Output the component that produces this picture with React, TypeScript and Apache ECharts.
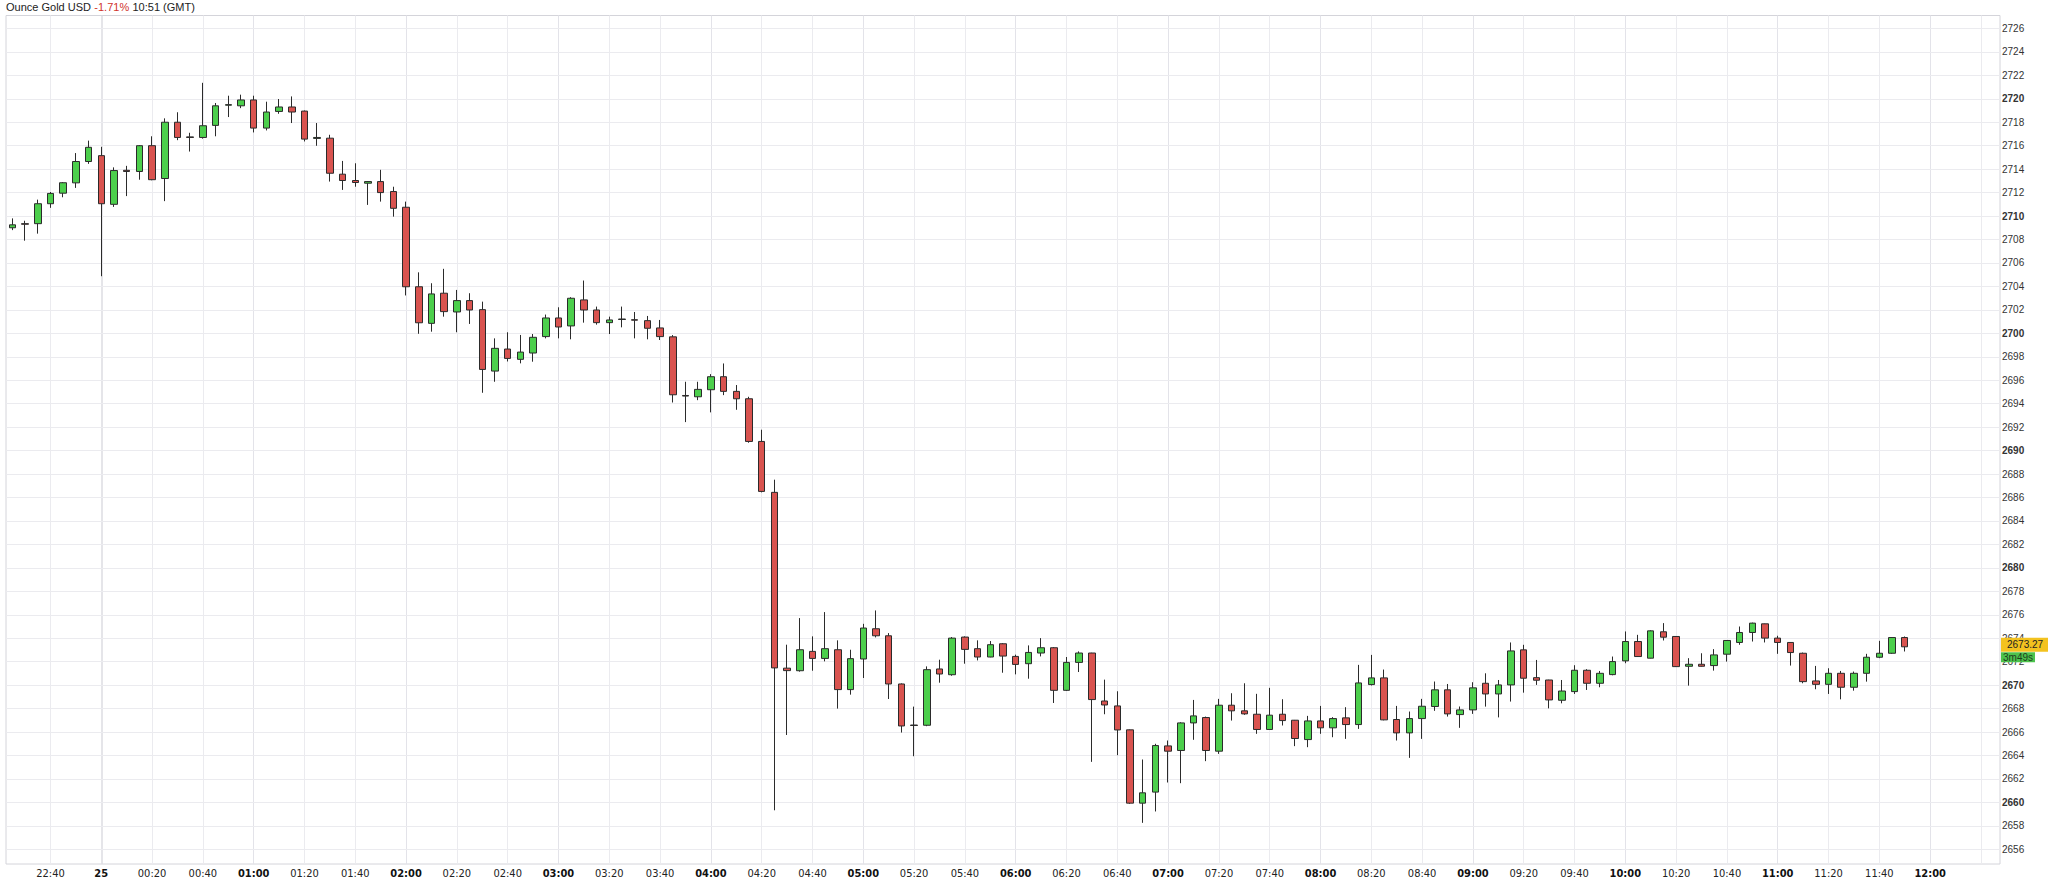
import React, { useEffect, useRef } from 'react';
import * as echarts from 'echarts';

// ---- header ----
const TITLE = 'Ounce Gold USD';
const CHANGE = '-1.71%';
const TIME_TEXT = '10:51 (GMT)';

// ---- sessions (5-minute candles; market break between them) ----
const SESSIONS = [
  { start: '22:25', count: 7 },
  { start: '00:00', count: 150 },
];
const DATE_LABEL = '25';
const LAST_X_LABEL = '12:00';

// ---- OHLC (5 min) ----
const OPEN = [
  2709.0, 2709.35, 2709.35, 2711.05, 2711.95, 2712.83, 2714.65, 2715.15, 2711.0, 2713.9,
  2713.8, 2716.0, 2713.2, 2718.0, 2716.75, 2716.7, 2717.73, 2719.45, 2719.4, 2719.9,
  2717.5, 2718.92, 2719.3, 2718.95, 2716.62, 2716.64, 2713.57, 2713.03, 2712.8, 2712.94,
  2712.09, 2710.75, 2703.97, 2700.85, 2703.42, 2701.82, 2702.79, 2702.02, 2696.78, 2698.66,
  2697.78, 2698.32, 2699.72, 2701.31, 2700.63, 2702.85, 2701.99, 2700.91, 2701.18, 2701.16,
  2701.08, 2700.46, 2699.7, 2694.7, 2694.59, 2695.19, 2696.3, 2695.05, 2694.42, 2690.78,
  2686.44, 2671.45, 2671.23, 2672.88, 2672.28, 2673.02, 2669.62, 2672.23, 2674.81, 2674.21,
  2670.1, 2666.6, 2666.58, 2671.38, 2670.89, 2674.1, 2673.11, 2672.4, 2673.53, 2672.45,
  2671.83, 2672.74, 2673.19, 2669.56, 2671.94, 2672.74, 2668.65, 2668.23, 2666.19, 2659.94,
  2660.88, 2664.82, 2664.43, 2666.78, 2667.24, 2664.37, 2668.29, 2667.81, 2667.52, 2666.22,
  2667.52, 2667.01, 2665.36, 2666.95, 2666.36, 2667.21, 2666.64, 2670.05, 2670.62, 2667.07,
  2665.93, 2667.15, 2668.18, 2669.6, 2667.49, 2667.89, 2670.16, 2669.25, 2670.02, 2673.01,
  2670.64, 2670.44, 2668.71, 2669.45, 2671.27, 2670.16, 2670.9, 2672.07, 2673.72, 2672.3,
  2674.55, 2674.15, 2671.61, 2671.78, 2671.67, 2672.64, 2673.64, 2674.49, 2675.23, 2674.01,
  2673.64, 2672.72, 2670.36, 2670.07, 2671.01, 2669.82, 2671.01, 2672.38, 2672.72, 2674.06,
];
const CLOSE = [
  2709.25, 2709.3, 2711.05, 2711.93, 2712.84, 2714.65, 2715.86, 2711.05, 2713.88, 2713.8,
  2716.0, 2713.1, 2718.0, 2716.7, 2716.7, 2717.7, 2719.4, 2719.5, 2719.9, 2717.5,
  2718.87, 2719.3, 2718.87, 2716.56, 2716.7, 2713.65, 2713.03, 2712.86, 2712.94, 2712.0,
  2710.66, 2703.97, 2700.9, 2703.36, 2701.85, 2702.79, 2701.99, 2696.92, 2698.72, 2697.86,
  2698.4, 2699.66, 2701.31, 2700.54, 2702.99, 2701.99, 2700.91, 2701.14, 2701.22, 2701.12,
  2700.43, 2699.72, 2694.76, 2694.65, 2695.22, 2696.3, 2695.05, 2694.42, 2690.78, 2686.52,
  2671.47, 2671.24, 2673.02, 2672.28, 2673.11, 2669.62, 2672.26, 2674.87, 2674.21, 2670.1,
  2666.52, 2666.56, 2671.32, 2670.95, 2674.01, 2673.05, 2672.4, 2673.45, 2672.48, 2671.77,
  2672.79, 2673.19, 2669.56, 2671.94, 2672.74, 2668.77, 2668.31, 2666.18, 2659.94, 2660.82,
  2664.85, 2664.37, 2666.78, 2667.38, 2664.43, 2668.29, 2667.81, 2667.55, 2666.22, 2667.44,
  2666.98, 2665.45, 2666.95, 2666.36, 2667.15, 2666.64, 2670.19, 2670.62, 2667.04, 2665.93,
  2667.15, 2668.2, 2669.6, 2667.55, 2667.89, 2669.77, 2669.25, 2670.02, 2672.92, 2670.59,
  2670.42, 2668.74, 2669.5, 2671.27, 2670.16, 2671.01, 2672.01, 2673.72, 2672.44, 2674.63,
  2674.09, 2671.58, 2671.78, 2671.61, 2672.58, 2673.81, 2674.49, 2675.29, 2674.01, 2673.64,
  2672.78, 2670.3, 2670.07, 2671.01, 2669.82, 2671.01, 2672.38, 2672.72, 2674.06, 2673.27,
];
const LOW = [
  2708.8, 2707.9, 2708.5, 2710.7, 2711.6, 2712.4, 2714.45, 2704.87, 2710.78, 2711.7,
  2713.1, 2713.05, 2711.27, 2716.47, 2715.5, 2716.6, 2716.8, 2718.44, 2719.2, 2717.13,
  2717.3, 2718.72, 2717.93, 2716.36, 2715.99, 2712.94, 2712.23, 2712.5, 2710.95, 2711.23,
  2709.95, 2703.23, 2699.96, 2700.14, 2701.42, 2700.09, 2700.8, 2694.93, 2695.87, 2697.6,
  2697.44, 2697.58, 2699.57, 2699.57, 2699.49, 2700.91, 2700.74, 2699.94, 2700.51, 2699.57,
  2699.49, 2699.43, 2694.1, 2692.43, 2694.3, 2693.26, 2694.73, 2693.48, 2690.67, 2686.44,
  2659.33, 2665.75, 2671.15, 2671.23, 2672.03, 2668.0, 2669.19, 2670.61, 2674.07, 2668.82,
  2665.96, 2663.94, 2666.5, 2670.21, 2670.8, 2671.83, 2672.11, 2672.38, 2671.06, 2670.92,
  2670.55, 2672.45, 2668.48, 2669.5, 2671.12, 2663.46, 2667.52, 2664.03, 2659.88, 2658.26,
  2659.23, 2661.7, 2661.64, 2665.34, 2663.52, 2664.14, 2666.98, 2667.47, 2665.85, 2666.2,
  2666.56, 2664.8, 2664.71, 2665.85, 2665.56, 2665.42, 2666.27, 2669.97, 2667.0, 2665.28,
  2663.8, 2665.42, 2667.81, 2667.32, 2666.36, 2667.55, 2668.17, 2667.25, 2668.6, 2669.36,
  2670.02, 2668.02, 2668.45, 2669.25, 2669.59, 2669.82, 2670.84, 2671.87, 2672.4, 2672.28,
  2673.81, 2671.55, 2669.96, 2671.58, 2671.24, 2672.01, 2673.44, 2673.72, 2673.64, 2672.67,
  2671.67, 2670.16, 2669.65, 2669.25, 2668.79, 2669.53, 2670.3, 2672.3, 2672.67, 2672.87,
];
const HIGH = [
  2709.8, 2709.6, 2711.4, 2712.05, 2712.9, 2715.37, 2716.43, 2715.9, 2714.15, 2714.28,
  2716.05, 2716.8, 2718.33, 2718.85, 2717.1, 2721.36, 2719.64, 2720.26, 2720.35, 2720.26,
  2719.75, 2719.98, 2720.2, 2719.0, 2717.93, 2716.93, 2714.7, 2714.5, 2712.98, 2713.94,
  2712.5, 2711.23, 2705.2, 2704.27, 2705.5, 2703.7, 2703.42, 2702.7, 2699.57, 2700.09,
  2699.86, 2699.94, 2701.6, 2702.22, 2703.08, 2704.5, 2702.28, 2701.42, 2702.28, 2701.82,
  2701.48, 2701.14, 2699.85, 2695.87, 2695.87, 2696.52, 2697.43, 2695.59, 2694.59, 2691.78,
  2687.52, 2673.45, 2675.72, 2674.16, 2676.23, 2673.82, 2673.02, 2675.23, 2676.37, 2674.44,
  2670.15, 2668.17, 2671.6, 2672.17, 2674.1, 2674.16, 2673.82, 2673.76, 2673.59, 2672.6,
  2673.39, 2674.01, 2673.25, 2672.4, 2672.88, 2672.76, 2670.47, 2669.48, 2666.22, 2663.66,
  2665.0, 2665.28, 2666.84, 2668.74, 2667.32, 2668.83, 2669.31, 2670.16, 2669.26, 2669.77,
  2668.8, 2667.03, 2667.38, 2668.23, 2667.27, 2668.12, 2671.73, 2672.58, 2671.33, 2668.23,
  2667.75, 2668.83, 2670.31, 2670.1, 2668.18, 2670.25, 2671.01, 2670.44, 2673.64, 2673.44,
  2672.15, 2670.46, 2670.44, 2671.7, 2671.36, 2671.21, 2672.44, 2674.58, 2674.29, 2674.68,
  2675.29, 2674.17, 2672.3, 2672.72, 2673.07, 2673.83, 2675.0, 2675.33, 2675.25, 2674.21,
  2673.66, 2672.78, 2671.64, 2671.44, 2671.21, 2671.16, 2672.67, 2673.78, 2674.08, 2674.15,
];

// ---- price axis ----
const Y_MIN = 2654.75;
const Y_MAX = 2727.1;
const Y_TICK_FIRST = 2656;
const Y_TICK_LAST = 2726;
const Y_TICK_STEP = 2;

// ---- live price tag ----
const LAST_PRICE = 2673.27;
const COUNTDOWN = '3m49s';

const pad = (n: number) => (n < 10 ? '0' + n : '' + n);

function buildTimes(): string[] {
  const out: string[] = [];
  SESSIONS.forEach((s) => {
    const [h, m] = s.start.split(':').map(Number);
    const t0 = h * 60 + m;
    for (let i = 0; i < s.count; i++) {
      const t = (t0 + i * 5) % 1440;
      out.push(pad(Math.floor(t / 60)) + ':' + pad(t % 60));
    }
  });
  return out;
}

const GRID = { left: 6, top: 15.5, right: 48, bottom: 15 };
const FONT = '"Liberation Sans", Arial, Helvetica, sans-serif';
const NARROW = '"Liberation Sans Narrow", "DejaVu Sans Condensed", "Liberation Sans", sans-serif';

export default function App() {
  const ref = useRef<HTMLDivElement>(null);

  useEffect(() => {
    if (!ref.current) return;
    const chart = echarts.init(ref.current, undefined, { renderer: 'svg' });
    const times = buildTimes();
    const candles = OPEN.map((o, i) => [o, CLOSE[i], LOW[i], HIGH[i]]);
    const lastLabelIdx = times.indexOf(LAST_X_LABEL);

    const isMark = (t: string) => Number(t.slice(3)) % 20 === 0;

    const vLines = times
      .filter((t) => isMark(t))
      .map((t) => {
        const isDate = t === '00:00';
        const isHour = t.slice(3) === '00';
        return {
          xAxis: t,
          lineStyle: {
            color: isDate ? '#dcdce2' : isHour ? '#e3e3e9' : '#ebebef',
            width: isDate ? 1.5 : 1,
            type: 'solid',
          },
          label: { show: false },
        };
      });

    const hLines: any[] = [];
    for (let v = Y_TICK_FIRST; v <= Y_TICK_LAST; v += Y_TICK_STEP) {
      hLines.push({
        yAxis: v,
        lineStyle: { color: '#ebebef', width: 1, type: 'solid' },
        label: {
          show: true,
          position: 'end',
          distance: 2,
          formatter: String(v),
          color: '#333',
          fontSize: 10,
          fontFamily: FONT,
          fontWeight: v % 10 === 0 ? 'bold' : 'normal',
        },
      });
    }

    chart.setOption({
      animation: false,
      backgroundColor: '#ffffff',
      grid: {
        ...GRID,
        show: true,
        borderColor: '#d4d4da',
        borderWidth: 1,
        backgroundColor: 'transparent',
      },
      xAxis: {
        type: 'category',
        data: times,
        boundaryGap: true,
        axisLine: { show: false },
        axisTick: { show: false },
        splitLine: { show: false },
        axisLabel: {
          interval: (idx: number, val: string) => isMark(val) && idx <= lastLabelIdx,
          margin: 4,
          fontSize: 11,
          fontFamily: NARROW,
          color: '#222',
          formatter: (val: string) => {
            if (val === '00:00') return '{b|' + DATE_LABEL + '}';
            if (val.slice(3) === '00') return '{b|' + val + '}';
            return val;
          },
          rich: {
            b: { fontWeight: 'bold', fontSize: 11, fontFamily: NARROW, color: '#111' },
          },
        },
      },
      yAxis: {
        type: 'value',
        position: 'right',
        min: Y_MIN,
        max: Y_MAX,
        scale: true,
        axisLine: { show: false },
        axisTick: { show: false },
        axisLabel: { show: false },
        splitLine: { show: false },
      },
      series: [
        {
          type: 'candlestick',
          data: candles,
          barWidth: 7,
          z: 3,
          itemStyle: {
            color: '#4ccf4c',
            color0: '#d9534f',
            borderColor: '#2b2b2b',
            borderColor0: '#2b2b2b',
            borderWidth: 1,
          },
          markLine: {
            z: 1,
            silent: true,
            symbol: ['none', 'none'],
            animation: false,
            data: [...vLines, ...hLines],
          },
        },
      ],
    });

    const yPrice = chart.convertToPixel({ yAxisIndex: 0 }, LAST_PRICE) as number;
    const gridRight = 2048 - GRID.right;
    chart.setOption({
      graphic: [
        {
          type: 'text',
          left: 6,
          top: 1,
          z: 100,
          style: {
            text: '{a|' + TITLE + '} {r|' + CHANGE + '} {a|' + TIME_TEXT + '}',
            rich: {
              a: { fill: '#222', fontSize: 11, fontFamily: FONT },
              r: { fill: '#d0342c', fontSize: 11, fontFamily: FONT },
            },
          },
        },
        {
          type: 'text',
          x: gridRight + 1,
          y: yPrice - 2,
          z: 100,
          style: {
            text: LAST_PRICE.toFixed(2),
            fill: '#222',
            fontSize: 10,
            fontFamily: FONT,
            backgroundColor: '#f3c21f',
            padding: [2, 6, 2, 6],
            align: 'left',
            verticalAlign: 'middle',
          },
        },
        {
          type: 'text',
          x: gridRight + 1,
          y: yPrice + 10.5,
          z: 99,
          style: {
            text: COUNTDOWN,
            fill: '#1d3d1d',
            fontSize: 10,
            fontFamily: FONT,
            backgroundColor: '#4cc24c',
            padding: [0, 2, 0, 2],
            align: 'left',
            verticalAlign: 'middle',
          },
        },
      ],
    });

    return () => chart.dispose();
  }, []);

  return (
    <div
      ref={ref}
      style={{ position: 'fixed', left: 0, top: 0, width: 2048, height: 879, background: '#fff' }}
    />
  );
}
